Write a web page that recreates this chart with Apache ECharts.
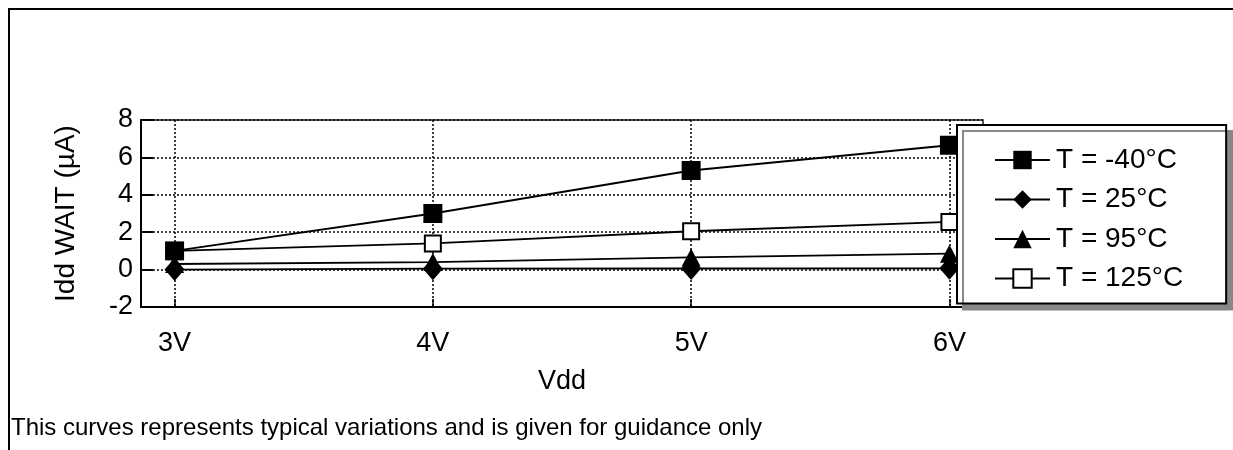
<!DOCTYPE html>
<html>
<head>
<meta charset="utf-8">
<script src="https://cdn.jsdelivr.net/npm/echarts@6/dist/echarts.min.js"></script>
<style>
html,body{margin:0;padding:0;background:#fff;}
#chart{width:1233px;height:450px;}
</style>
</head>
<body>
<div id="chart"></div>
<script>
// ---- data ----
const voltages = [3, 4, 5, 6];            // Vdd (V)
const voltageLabels = ['3V', '4V', '5V', '6V'];
const seriesNames = ['T = -40°C', 'T = 25°C', 'T = 95°C', 'T = 125°C'];
const idd_m40 = [1.0, 3.0, 5.3, 6.65];
const idd_25 = [0.0, 0.05, 0.06, 0.07];
const idd_95 = [0.3, 0.4, 0.65, 0.85];
const idd_125 = [1.0, 1.4, 2.05, 2.55];
const yTicks = [-2, 0, 2, 4, 6, 8];
const footerText = 'This curves represents typical variations and is given for guidance only';

const FONT = '"Liberation Sans", Arial, sans-serif';
const pairs = arr => voltages.map((v, i) => [v, arr[i]]);

const chart = echarts.init(document.getElementById('chart'), null, {renderer: 'canvas'});

function lineSeries(name, data, symbol, size, fill, z) {
  return {
    name: name,
    type: 'line',
    z: z,
    data: pairs(data),
    symbol: symbol,
    symbolSize: size,
    showAllSymbol: true,
    color: '#000',
    lineStyle: {color: '#000', width: 1.8},
    itemStyle: fill === '#fff'
      ? {color: '#fff', borderColor: '#000', borderWidth: 2}
      : {color: '#000', borderColor: '#000', borderWidth: 0},
    emphasis: {disabled: true},
    clip: false
  };
}

const option = {
  animation: false,
  backgroundColor: '#fff',
  textStyle: {fontFamily: FONT, color: '#000'},
  title: {
    text: footerText,
    left: 11,
    top: 416,
    padding: 0,
    textStyle: {fontFamily: FONT, fontSize: 24, fontWeight: 'normal', color: '#000'}
  },
  graphic: [{
    type: 'polyline',
    silent: true,
    shape: {points: [[9, 450], [9, 9], [1233, 9]]},
    style: {stroke: '#000', lineWidth: 2, fill: null}
  }],
  legend: {
    orient: 'vertical',
    left: 957,
    top: 125,
    padding: [21, 43, 11, 37],
    itemWidth: 55,
    itemHeight: 23,
    itemGap: 11.5,
    backgroundColor: '#fff',
    borderColor: '#000',
    borderWidth: 2,
    borderRadius: 0,
    shadowColor: '#888',
    shadowOffsetX: 6,
    shadowOffsetY: 6,
    shadowBlur: 0,
    textStyle: {fontFamily: FONT, fontSize: 28, color: '#000', padding: [0, 0, 0, 1]},
    data: seriesNames
  },
  grid: {
    left: 141, right: 250, top: 120, bottom: 143,
    show: true,
    borderColor: '#222',
    borderWidth: 1.5,
    containLabel: false
  },
  xAxis: {
    type: 'value',
    min: 2.87,
    max: 6.13,
    name: 'Vdd',
    nameLocation: 'middle',
    nameGap: 61,
    nameTextStyle: {fontFamily: FONT, fontSize: 27, color: '#000'},
    axisLine: {show: true, onZero: false, lineStyle: {color: '#000', width: 2}},
    axisTick: {show: true, inside: true, length: 8, customValues: voltages, lineStyle: {color: '#000', width: 1.5}},
    axisLabel: {
      customValues: voltages,
      margin: 23,
      fontFamily: FONT, fontSize: 27, color: '#000',
      formatter: v => voltageLabels[voltages.indexOf(v)] || ''
    },
    splitLine: {show: true, lineStyle: {color: '#000', width: 1.5, type: [2, 2]}}
  },
  yAxis: {
    type: 'value',
    min: -2,
    max: 8,
    interval: 2,
    name: 'Idd WAIT (µA)',
    nameLocation: 'middle',
    nameGap: 61,
    nameRotate: 90,
    nameTextStyle: {fontFamily: FONT, fontSize: 28, color: '#000'},
    axisLine: {show: true, onZero: false, lineStyle: {color: '#000', width: 2}},
    axisTick: {show: true, inside: true, length: 12, lineStyle: {color: '#000', width: 2}},
    axisLabel: {margin: 8, fontFamily: FONT, fontSize: 27, color: '#000',
      formatter: v => (yTicks.indexOf(v) >= 0 ? String(v) : '')},
    splitLine: {show: true, lineStyle: {color: '#000', width: 1.5, type: [2, 2]}}
  },
  series: [
    lineSeries(seriesNames[0], idd_m40, 'rect', 19, '#000', 3),
    lineSeries(seriesNames[1], idd_25, 'diamond', [20, 23], '#000', 2),
    lineSeries(seriesNames[2], idd_95, 'triangle', [19, 18], '#000', 2),
    lineSeries(seriesNames[3], idd_125, 'rect', 16, '#fff', 2)
  ]
};
chart.setOption(option);
</script>
</body>
</html>
